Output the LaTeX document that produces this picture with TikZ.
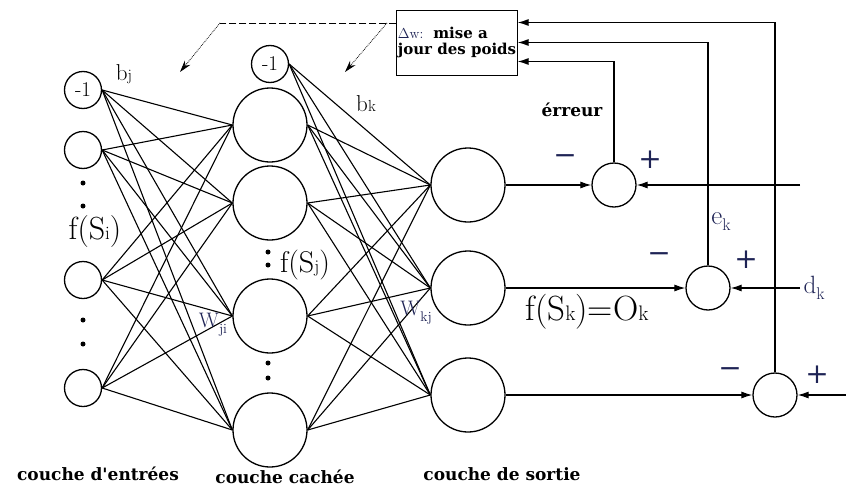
\documentclass[tikz,border=0pt]{standalone}
\usepackage{fontspec}
\newfontfamily\lblfont{DejaVu Serif}
\usetikzlibrary{arrows.meta, positioning, calc}
\definecolor{ink}{RGB}{30,35,85}

\newcommand{\fsz}[1]{\fontsize{#1}{#1}\selectfont}
\newcommand{\fofs}[3]{{\fsz{#1}f(S{\fsz{#2}#3})}}

\tikzset{
  unit/.style={circle, draw, line width=1.3pt, minimum size=37pt, inner sep=0pt},
  neuron/.style={circle, draw, line width=1.3pt, minimum size=74pt, inner sep=0pt},
  sumnode/.style={circle, draw, line width=1.3pt, minimum size=44pt, inner sep=0pt},
  link/.style={line width=1.1pt},
  arr/.style={line width=1.1pt, -{Latex[length=11pt,width=7pt]}},
  dashline/.style={line width=0.8pt, dash pattern=on 7pt off 3pt},
  dotarr/.style={line width=0.8pt, densely dotted, -{Stealth[length=12pt,width=7pt]}},
  layerlbl/.style={font=\lblfont\bfseries\fsz{17}},
  sign/.style={font=\lblfont\fsz{28}, text=ink, inner sep=0pt},
}

\begin{document}
\begin{tikzpicture}[x=1pt, y=-1pt]
\useasboundingbox (0,0) rectangle (846,490);

% couche d'entrees
\node[unit] (bi) at (83,90) {\fsz{21}-1};
\node[unit] (i1) at (83,150) {};
\node[unit] (i2) at (83,280) {};
\node[unit] (i3) at (83,388) {};
\foreach \y in {183,206,320,344}
  \fill (83,\y) circle (2.5);

% couche cachee
\node[unit] (bh) at (270,64) {\fsz{21}-1};
\node[neuron] (h1) at (270,125) {};
\node[neuron] (h2) at (270,203) {};
\node[neuron] (h3) at (270,316) {};
\node[neuron] (h4) at (270,430) {};
\foreach \y in {252,265,363,378}
  \fill (268,\y) circle (2.5);

% couche de sortie
\node[neuron] (o1) at (468,185) {};
\node[neuron] (o2) at (468,288) {};
\node[neuron] (o3) at (468,395) {};

% poids
\foreach \a in {bi,i1,i2,i3}
  \foreach \b in {h1,h2,h3,h4}
    \draw[link] (\a.east) -- (\b.west);
\foreach \a in {bh,h1,h2,h3,h4}
  \foreach \b in {o1,o2,o3}
    \draw[link] (\a.east) -- (\b.west);

% comparateurs
\node[sumnode] (s1) at (614,185) {};
\node[sumnode] (s2) at (708,288) {};
\node[sumnode] (s3) at (775,395) {};

\node[draw, line width=1pt, minimum width=118pt, minimum height=65pt,
      inner sep=1pt, align=left] (upd) at (457,42.5)
  {{\color{ink}\fsz{14}$\Delta$w:}\quad{\lblfont\bfseries\fsz{15}mise a}\\[4pt]
   {\lblfont\bfseries\fsz{15}jour des poids}};

\draw[arr] (o1) -- (s1);
\draw[arr] (o2) -- (s2);
\draw[arr] (o3) -- (s3);
\coordinate (y1) at (800,185);
\coordinate (dk) at (800,288);
\coordinate (y3) at (846,395);
\draw[arr] (y1) -- (s1);
\draw[arr] (dk) -- (s2);
\draw[arr] (y3) -- (s3);

\draw[arr] (s1.north) |- ([yshift=-19pt]upd.east);
\draw[arr] (s2.north) |- (upd.east);
\draw[arr] (s3.north) |- ([yshift=20pt]upd.east);

% retour vers les poids
\coordinate (dl) at (220,23);
\coordinate (dm) at (387,23);
\coordinate (wi) at (180,72);
\coordinate (wk) at (345,72);
\draw[dashline] ([yshift=19.5pt]upd.west) -- (dl);
\draw[dotarr] (dl) -- (wi);
\draw[dotarr] (dm) -- (wk);

% textes
\node (bj) at (124,74) {\fsz{23}b{\fsz{16}j}};
\node (bk) at (366,104) {\fsz{23}b{\fsz{16}k}};
\node (fsi) at (95,232) {\fofs{32}{19}{i}};
\node (fsj) at (305,265) {\fofs{30}{18}{j}};
\node (fsk) at (587,312) {{\fsz{35}f(S{\fsz{21}k})=O{\fsz{21}k}}};
\node[text=ink] (wji) at (213,325) {\fsz{21}W\raisebox{-6pt}{\fsz{14}ji}};
\node[text=ink] (wkj) at (416,313) {\fsz{21}W\raisebox{-6pt}{\fsz{14}kj}};
\node[text=ink] (ek) at (721,222) {\fsz{27}e\raisebox{-6pt}{\fsz{17}k}};
\node[text=ink, right] (dklbl) at (dk) {\fsz{25}d\raisebox{-6pt}{\fsz{17}k}};
\node[font=\lblfont\bfseries\fsz{17}] (err) at (572,110) {érreur};

\node[sign] (m1) at (565,160) {−};
\node[sign] (p1) at (650,160) {+};
\node[sign] (m2) at (659,258) {−};
\node[sign] (p2) at (746,260) {+};
\node[sign] (m3) at (730,373) {−};
\node[sign] (p3) at (817,375) {+};

\node[layerlbl] (lin) at (98,474) {couche d'entrées};
\node[layerlbl] (lhid) at (285,477) {couche cachée};
\node[layerlbl] (lout) at (502,474) {couche de sortie};
\end{tikzpicture}
\end{document}
